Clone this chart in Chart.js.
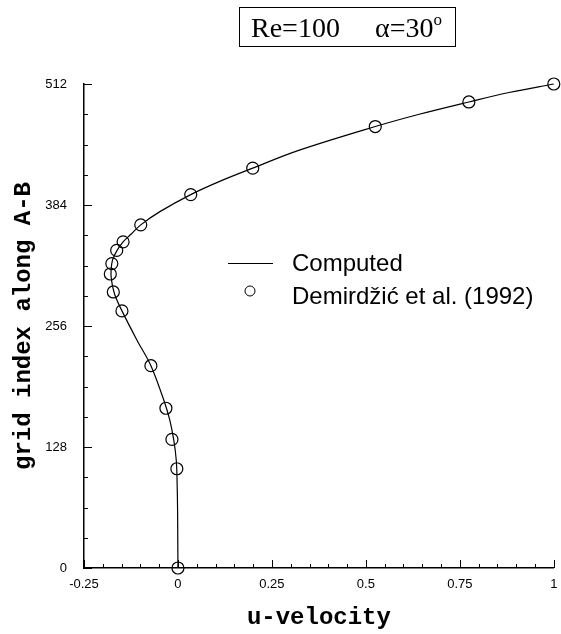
<!DOCTYPE html>
<html>
<head>
<meta charset="utf-8">
<script src="https://cdn.jsdelivr.net/npm/chart.js@4"></script>
<style>
  html, body { margin: 0; padding: 0; background: #fff; }
  #wrap { width: 561px; height: 634px; }
</style>
</head>
<body>
<div id="wrap"><canvas id="myChart" width="561" height="634"></canvas></div>
<script>
// computed profile along A-B
const computedU = [0, -0.0005, -0.001, -0.0024, -0.0045, -0.011, -0.022, -0.038, -0.072, -0.109, -0.149, -0.168, -0.177, -0.178, -0.174, -0.162, -0.146, -0.125, -0.099, -0.048, 0.034, 0.111, 0.199, 0.323, 0.525, 0.642, 0.774, 0.881, 1.0];
const computedIdx = [0, 30, 61, 93, 114, 135, 157, 178, 214, 241, 272, 289, 305, 315, 326, 336, 345, 353, 363, 377, 395, 409, 423, 442, 467, 480, 493, 503, 512];

// Demirdzic et al. (1992)
const refU = [0, -0.003, -0.016, -0.032, -0.072, -0.149, -0.172, -0.18, -0.176, -0.163, -0.146, -0.099, 0.034, 0.199, 0.525, 0.774, 1.0];
const refIdx = [0, 105, 136, 169, 214, 272, 292, 311, 322, 336, 345, 363, 395, 423, 467, 493, 512];

const xTicks = [-0.25, 0, 0.25, 0.5, 0.75, 1];
const yTicks = [0, 128, 256, 384, 512];

const chartCtx = document.getElementById("myChart").getContext("2d");

const tickMarks = {
  id: "tickMarks",
  afterDraw(chart) {
    const { ctx, chartArea } = chart;
    const xs = chart.scales.x;
    const ys = chart.scales.y;
    ctx.save();
    ctx.strokeStyle = "#000";
    ctx.lineWidth = 1;
    ctx.beginPath();
    for (let i = 0; i <= 25; i++) {
      const v = -0.25 + i * 0.05;
      const px = Math.round(xs.getPixelForValue(v)) + 0.5;
      const len = i % 5 === 0 ? 8 : 4;
      ctx.moveTo(px, chartArea.bottom);
      ctx.lineTo(px, chartArea.bottom - len);
    }
    for (let i = 0; i <= 16; i++) {
      const v = i * 32;
      const py = Math.round(ys.getPixelForValue(v)) + 0.5;
      const len = i % 4 === 0 ? 8 : 4;
      ctx.moveTo(chartArea.left, py);
      ctx.lineTo(chartArea.left + len, py);
    }
    ctx.stroke();
    ctx.restore();
  },
};

const extras = {
  id: "extras",
  afterDraw(chart) {
    const { ctx } = chart;
    ctx.save();
    // title box
    ctx.strokeStyle = "#000";
    ctx.lineWidth = 1;
    ctx.strokeRect(239.5, 7.5, 216, 39);
    ctx.fillStyle = "#000";
    ctx.textBaseline = "alphabetic";
    ctx.font = '28px "Liberation Serif"';
    ctx.fillText("Re=100", 251, 37);
    ctx.fillText("\u03b1=30", 375, 37);
    const w = ctx.measureText("\u03b1=30").width;
    ctx.font = '17px "Liberation Serif"';
    ctx.fillText("o", 375 + w, 25);

    // legend
    ctx.beginPath();
    ctx.moveTo(228, 263.5);
    ctx.lineTo(273, 263.5);
    ctx.stroke();
    ctx.beginPath();
    ctx.arc(250, 291, 5, 0, Math.PI * 2);
    ctx.stroke();
    ctx.font = '24px "Liberation Sans"';
    ctx.textBaseline = "middle";
    ctx.fillText("Computed", 292, 264);
    ctx.fillText("Demird\u017ei\u0107 et al. (1992)", 292, 297);
    ctx.restore();
  },
};

new Chart(chartCtx, {
  type: "scatter",
  data: {
    datasets: [
      {
        label: "Computed",
        data: computedU.map((u, i) => ({ x: u, y: computedIdx[i] })),
        showLine: true,
        borderColor: "#000",
        borderWidth: 1.2,
        pointRadius: 0,
        tension: 0.35,
        fill: false,
        clip: false,
      },
      {
        label: "Demirdžić et al. (1992)",
        data: refU.map((u, i) => ({ x: u, y: refIdx[i] })),
        showLine: false,
        pointStyle: "circle",
        pointRadius: 6,
        borderColor: "#000",
        borderWidth: 1.2,
        backgroundColor: "rgba(0,0,0,0)",
        clip: false,
      },
    ],
  },
  options: {
    responsive: false,
    animation: false,
    events: [],
    layout: { padding: { left: 0, top: 84, right: 6, bottom: 0 } },
    plugins: {
      legend: { display: false },
      tooltip: { enabled: false },
    },
    scales: {
      x: {
        type: "linear",
        min: -0.25,
        max: 1,
        afterBuildTicks: (scale) => {
          scale.ticks = xTicks.map((v) => ({ value: v }));
        },
        afterFit: (scale) => {
          scale.height = 66;
          scale.paddingLeft = 0;
          scale.paddingRight = 0;
        },
        grid: { display: false, drawTicks: false },
        border: { display: true, color: "#000", width: 1.5 },
        ticks: {
          padding: 9,
          color: "#000",
          font: { family: "Liberation Sans", size: 13 },
          maxRotation: 0,
          callback: (v) => String(v),
        },
        title: {
          display: true,
          text: "u-velocity",
          color: "#000",
          font: { family: "Liberation Mono", size: 24, weight: "bold" },
          padding: { top: 0, bottom: 2 },
        },
      },
      y: {
        type: "linear",
        min: 0,
        max: 512,
        afterBuildTicks: (scale) => {
          scale.ticks = yTicks.map((v) => ({ value: v }));
        },
        afterFit: (scale) => {
          scale.width = 84;
          scale.paddingTop = 0;
          scale.paddingBottom = 0;
        },
        grid: { display: false, drawTicks: false },
        border: { display: true, color: "#000", width: 1.5 },
        ticks: {
          padding: 17,
          color: "#000",
          font: { family: "Liberation Sans", size: 13 },
          callback: (v) => String(v),
        },
        title: {
          display: true,
          text: "grid index along A-B",
          color: "#000",
          font: { family: "Liberation Mono", size: 24, weight: "bold" },
          padding: { top: 10, bottom: 0 },
        },
      },
    },
  },
  plugins: [tickMarks, extras],
});
</script>
</body>
</html>
